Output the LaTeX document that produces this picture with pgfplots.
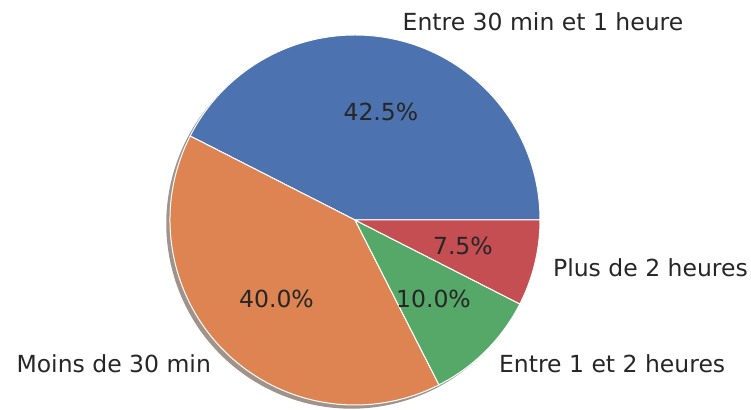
\documentclass[border=0pt]{standalone}
\usepackage{pgfplots}
\usepackage{pgfplotstable}
\usepackage{fontspec}
\setmainfont{DejaVu Sans}
\pgfplotsset{compat=1.18}
\definecolor{cblue}{RGB}{76,114,176}
\definecolor{corange}{RGB}{221,132,82}
\definecolor{cgreen}{RGB}{85,168,104}
\definecolor{cred}{RGB}{196,78,82}
\definecolor{txt}{RGB}{38,38,38}
\pgfplotstableread{
value
42.5
40.0
10.0
7.5
}\piedata
\pgfplotstablegetelem{0}{value}\of\piedata\let\vA\pgfplotsretval
\pgfplotstablegetelem{1}{value}\of\piedata\let\vB\pgfplotsretval
\pgfplotstablegetelem{2}{value}\of\piedata\let\vC\pgfplotsretval
\pgfplotstablegetelem{3}{value}\of\piedata\let\vD\pgfplotsretval
\pgfmathsetmacro\aA{3.6*\vA}
\pgfmathsetmacro\aB{\aA+3.6*\vB}
\pgfmathsetmacro\aC{\aB+3.6*\vC}
\pgfmathsetmacro\aD{\aC+3.6*\vD}
\begin{document}%
\begin{tikzpicture}
\begin{axis}[
  at={(0,0)}, anchor=south west,
  width=751pt, height=409pt, scale only axis,
  xmin=0, xmax=751, ymin=0, ymax=409,
  enlargelimits=false, hide axis, clip=false,
]
% shadows
\fill[cblue!30!black, opacity=0.5] (axis cs:351.3,185.3) -- ++(0:185pt) arc[start angle=0, end angle=\aA, radius=185pt] -- cycle;
\fill[corange!30!black, opacity=0.5] (axis cs:351.3,185.3) -- ++(\aA:185pt) arc[start angle=\aA, end angle=\aB, radius=185pt] -- cycle;
\fill[cgreen!30!black, opacity=0.5] (axis cs:351.3,185.3) -- ++(\aB:185pt) arc[start angle=\aB, end angle=\aC, radius=185pt] -- cycle;
\fill[cred!30!black, opacity=0.5] (axis cs:351.3,185.3) -- ++(\aC:185pt) arc[start angle=\aC, end angle=\aD, radius=185pt] -- cycle;
% wedges
\filldraw[fill=cblue, draw=white, line width=1pt, line join=round] (axis cs:355,189) -- ++(0:185pt) arc[start angle=0, end angle=\aA, radius=185pt] -- cycle;
\filldraw[fill=corange, draw=white, line width=1pt, line join=round] (axis cs:355,189) -- ++(\aA:185pt) arc[start angle=\aA, end angle=\aB, radius=185pt] -- cycle;
\filldraw[fill=cgreen, draw=white, line width=1pt, line join=round] (axis cs:355,189) -- ++(\aB:185pt) arc[start angle=\aB, end angle=\aC, radius=185pt] -- cycle;
\filldraw[fill=cred, draw=white, line width=1pt, line join=round] (axis cs:355,189) -- ++(\aC:185pt) arc[start angle=\aC, end angle=\aD, radius=185pt] -- cycle;
% labels
\begin{scope}[every node/.style={inner sep=0pt, text=txt, font=\fontsize{23.5}{28}\selectfont}]
\node[anchor=west] at (axis cs:402.5,386.9) {Entre 30 min et 1 heure};
\node[anchor=east] at (axis cs:211.1,45.1) {Moins de 30 min};
\node[anchor=west] at (axis cs:498.9,45.1) {Entre 1 et 2 heures};
\node[anchor=west] at (axis cs:552.9,141.5) {Plus de 2 heures};
\node at (axis cs:380.9,296.9) {42.5\%};
\node at (axis cs:276.5,110.5) {40.0\%};
\node at (axis cs:433.5,110.5) {10.0\%};
\node at (axis cs:462.9,163.1) {7.5\%};
\end{scope}
\end{axis}
\pgfresetboundingbox
\path[use as bounding box] (0,0) rectangle (751pt,409pt);
\end{tikzpicture}%
\end{document}
